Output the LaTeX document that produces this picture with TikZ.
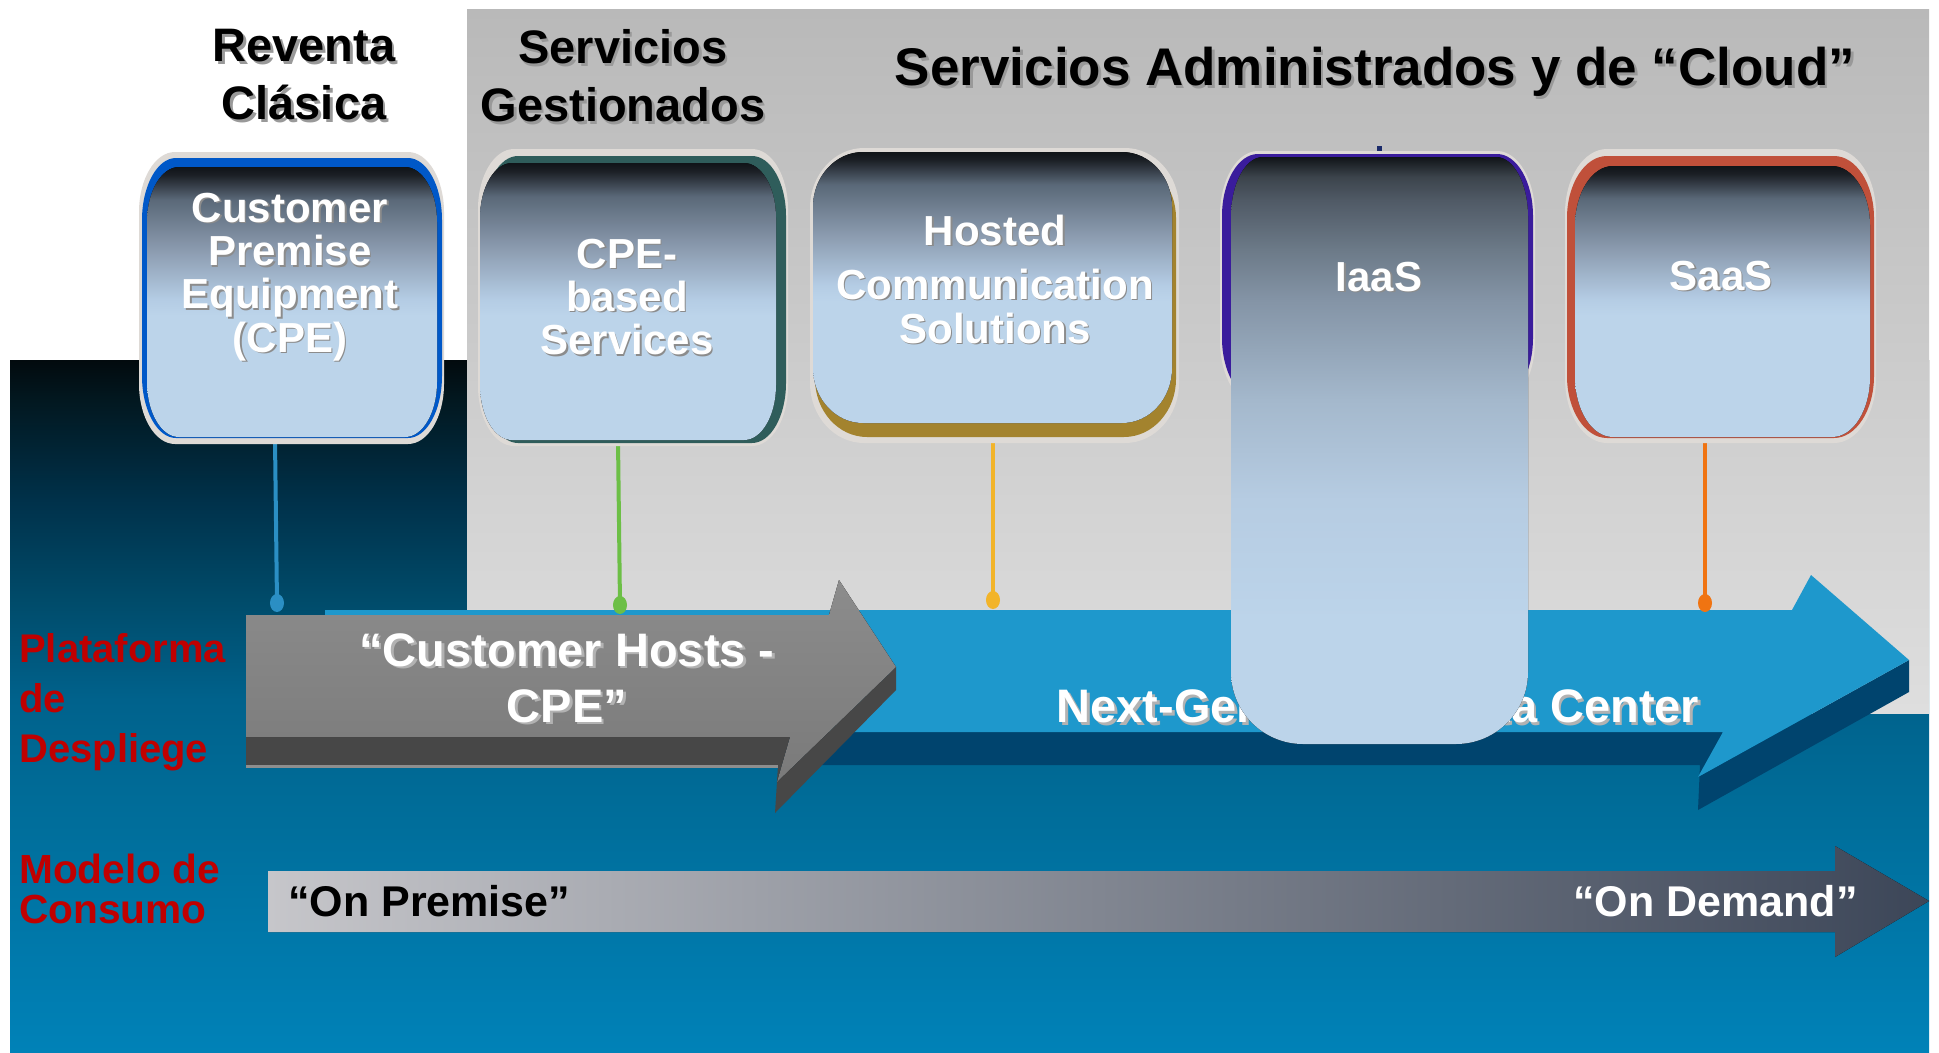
\documentclass[tikz,border=0pt]{standalone}
\usepackage{fontspec}
\setmainfont{Liberation Sans}
\definecolor{bxA}{HTML}{BCD4EA}
\definecolor{bxB}{HTML}{B4CCE4}
\definecolor{bxC}{HTML}{8C9CB0}
\definecolor{bxD}{HTML}{5A6878}
\definecolor{bxE}{HTML}{1C2026}
\definecolor{bxF}{HTML}{101418}
\definecolor{iaB}{HTML}{B6CCE2}
\definecolor{iaC}{HTML}{A4B8CC}
\definecolor{iaD}{HTML}{8494A6}
\definecolor{iaE}{HTML}{6C7A88}
\definecolor{iaF}{HTML}{505A66}
\definecolor{iaG}{HTML}{3C444C}
\definecolor{bgA}{HTML}{0082B8}
\definecolor{bgB}{HTML}{006C98}
\definecolor{bgC}{HTML}{00628C}
\definecolor{bgD}{HTML}{004B6A}
\definecolor{bgE}{HTML}{00314A}
\definecolor{bgF}{HTML}{021820}
\definecolor{bgG}{HTML}{020A0E}
\definecolor{greyT}{HTML}{B9B9B9}
\definecolor{greyM}{HTML}{D4D4D4}
\definecolor{greyB}{HTML}{DEDEDE}
\definecolor{glowc}{HTML}{DEDAD6}
\definecolor{cpeBorder}{HTML}{0058C8}
\definecolor{cpebBorder}{HTML}{2F5D5B}
\definecolor{hostBorder}{HTML}{A3832E}
\definecolor{iaasBorder}{HTML}{3A1C9C}
\definecolor{saasBorder}{HTML}{C0503A}
\definecolor{stemA}{HTML}{2B8FC4}
\definecolor{stemB}{HTML}{6CBF46}
\definecolor{stemC}{HTML}{F2B42A}
\definecolor{stemD}{HTML}{F07412}
\definecolor{ngFace}{HTML}{1E98CC}
\definecolor{ngSide}{HTML}{00446E}
\definecolor{gFaceT}{HTML}{8C8C8C}
\definecolor{gFaceB}{HTML}{7A7A7A}
\definecolor{gSide}{HTML}{474747}
\definecolor{gEdge}{HTML}{8E8E8E}
\definecolor{cmL}{HTML}{C6C6CA}
\definecolor{cmM}{HTML}{8C8E96}
\definecolor{cmR}{HTML}{3C4658}
\definecolor{redlbl}{HTML}{C00000}
\definecolor{tickc}{HTML}{1A2A6A}
\pgfdeclareverticalshading{boxsh}{100bp}{color(0bp)=(bxA); color(47.5bp)=(bxA); color(50.5bp)=(bxB); color(59.5bp)=(bxC); color(69bp)=(bxD); color(73.5bp)=(bxE); color(75bp)=(bxF); color(100bp)=(bxF)}
\pgfdeclareverticalshading{iaassh}{100bp}{color(0bp)=(bxA); color(35.5bp)=(bxA); color(45.8bp)=(iaB); color(54.3bp)=(iaC); color(62.8bp)=(iaD); color(67.1bp)=(iaE); color(71.3bp)=(iaF); color(73.3bp)=(iaG); color(75bp)=(bxF); color(100bp)=(bxF)}
\pgfdeclareverticalshading{bgblue}{100bp}{color(0bp)=(bgA); color(25bp)=(bgA); color(43.3bp)=(bgB); color(50.5bp)=(bgC); color(57.7bp)=(bgD); color(64.9bp)=(bgE); color(72.1bp)=(bgF); color(75bp)=(bgG); color(100bp)=(bgG)}
% rounded rectangle with elliptic corners: x1 ytop x2 ybottom rx ry (pixels, y downward)
\newcommand\rr[6]{(#1,-#2-#6) arc[start angle=180,end angle=90,x radius=#5,y radius=#6] -- (#3-#5,-#2) arc[start angle=90,end angle=0,x radius=#5,y radius=#6] -- (#3,-#4+#6) arc[start angle=0,end angle=-90,x radius=#5,y radius=#6] -- (#1+#5,-#4) arc[start angle=-90,end angle=-180,x radius=#5,y radius=#6] -- cycle}
\begin{document}
\begin{tikzpicture}[x=0.75pt,y=0.75pt,
  ttl/.style={inner sep=0,align=center,text=black,font=\fontsize{35.25}{43.5}\selectfont\bfseries},
  ttlsh/.style={ttl,text=black!40},
  bigttl/.style={inner sep=0,text=black,font=\fontsize{39.75}{48}\selectfont\bfseries},
  bigttlsh/.style={bigttl,text=black!40},
  lbl/.style={inner sep=0,align=center,text=white,font=\fontsize{31.5}{32.5}\selectfont\bfseries},
  lblsh/.style={lbl,text=black!45},
  arrtxt/.style={inner sep=0,align=center,text=white,font=\fontsize{35.25}{42}\selectfont\bfseries},
  arrtxtsh/.style={arrtxt,text=black!30},
  cmtxt/.style={inner sep=0,font=\fontsize{32.25}{38}\selectfont\bfseries},
  redtxt/.style={inner sep=0,align=left,text=redlbl},
  stem/.style={line width=3pt}
]
\fill[white] (0,0) rectangle (1939,-1053);
\useasboundingbox (0,0) rectangle (1939,-1053);
% backgrounds
\fill[shading=bgblue] (10,-360) rectangle (1929,-1053);
\fill[top color=greyT, middle color=greyM, bottom color=greyB] (467,-9) rectangle (1929,-713);

% titles
\node[ttlsh] (reventaSh) at (306.5,-77.5) {Reventa\\Clásica};
\node[ttl] (reventa) at (304,-75) {Reventa\\Clásica};
\node[ttlsh] (gestSh) at (625.5,-78.5) {Servicios\\Gestionados};
\node[ttl] (gest) at (623,-76) {Servicios\\Gestionados};
\node[bigttlsh] (cloudSh) at (1377.5,-74.5) {Servicios Administrados y de “Cloud”};
\node[bigttl] (cloud) at (1375,-72) {Servicios Administrados y de “Cloud”};

% Next-Generation Data Center arrow
\fill[ngSide] (325,-732) -- (1723,-732) -- (1698,-777) -- (1909,-660) -- (1909,-692) -- (1698,-810) -- (1700,-765) -- (325,-765) -- cycle;
\fill[ngFace] (325,-610) -- (1792,-610) -- (1811,-575) -- (1909,-660) -- (1698,-777) -- (1723,-732) -- (325,-732) -- cycle;
\node[arrtxtsh] (ngSh) at (1380.5,-708.5) {Next-Generation Data Center};
\node[arrtxt] (ng) at (1378,-706) {Next-Generation Data Center};

% Customer Hosts arrow
\fill[gSide] (246,-737) -- (790,-737) -- (777,-782) -- (896,-667) -- (896,-690) -- (775,-813) -- (778,-765) -- (246,-765) -- cycle;
\fill[gEdge] (246,-765) rectangle (778,-768);
\fill[top color=gFaceT, bottom color=gFaceB] (246,-615) -- (829,-615) -- (839,-580) -- (896,-667) -- (777,-782) -- (790,-737) -- (246,-737) -- cycle;
\node[arrtxtsh] (chSh) at (569.5,-680.5) {“Customer Hosts -\\CPE”};
\node[arrtxt] (ch) at (567,-678) {“Customer Hosts -\\CPE”};

% consumption arrow
\fill[left color=cmL, middle color=cmM, right color=cmR] (268,-871) -- (1835,-871) -- (1835,-846) -- (1929,-901) -- (1835,-957) -- (1835,-932) -- (268,-932) -- cycle;
\node[cmtxt,anchor=west,text=black] (onprem) at (288,-901) {“On Premise”};
\node[cmtxt,anchor=east,text=white] (ondem) at (1858,-901) {“On Demand”};

% stems
\coordinate (cpeS) at (275,-440); \coordinate (cpeD) at (277,-603);
\coordinate (cpebS) at (618,-440); \coordinate (cpebD) at (620,-605);
\coordinate (hostS) at (993,-440); \coordinate (hostD) at (993,-600);
\coordinate (saasS) at (1705,-440); \coordinate (saasD) at (1705,-603);
\draw[stem,stemA] (cpeS) -- (cpeD);
\fill[stemA] (cpeD) ellipse[x radius=7,y radius=9];
\draw[stem,stemB] (cpebS) -- (cpebD);
\fill[stemB] (cpebD) ellipse[x radius=7,y radius=9];
\draw[stem,stemC] (hostS) -- (hostD);
\fill[stemC] (hostD) ellipse[x radius=7,y radius=9];
\draw[stem,stemD] (saasS) -- (saasD);
\fill[stemD] (saasD) ellipse[x radius=7,y radius=9];

% CPE box
\fill[glowc] \rr{139}{152}{444}{444}{36}{60};
\fill[cpeBorder] \rr{142}{158}{442}{438}{34}{62};
\fill[shading=boxsh] \rr{147}{167}{437}{437}{32}{55};
\node[lblsh] (cpeLs) at (291.5,-278.5) {Customer\\Premise\\Equipment\\(CPE)};
\node[lbl] (cpeL) at (290,-277) {Customer\\Premise\\Equipment\\(CPE)};

% CPE-based box
\fill[glowc] \rr{478}{149}{788}{446}{36}{60};
\fill[cpebBorder] \rr{484}{156}{786}{443}{34}{60};
\fill[shading=boxsh] \rr{480}{163}{776}{440}{32}{55};
\node[lblsh] (cpebLs) at (628.5,-298.5) {CPE-\\based\\Services};
\node[lbl] (cpebL) at (627,-297) {CPE-\\based\\Services};

% Hosted box
\fill[glowc] \rr{810}{148}{1179}{443}{54}{60};
\fill[hostBorder] \rr{815}{160}{1176}{437}{52}{58};
\fill[shading=boxsh] \rr{813}{152}{1172}{423}{50}{55};
\node[lblsh,font=\fontsize{31.5}{33}\selectfont\bfseries] (hostLs) at (996.5,-280.5) {Hosted\\[7.5pt]Communication\\Solutions};
\node[lbl,font=\fontsize{31.5}{33}\selectfont\bfseries] (hostL) at (995,-279) {Hosted\\[7.5pt]Communication\\Solutions};

% IaaS box
\fill[tickc] (1377,-146) rectangle (1382,-153);
\fill[glowc] \rr{1220}{151}{1535}{405}{38}{64};
\fill[iaasBorder] \rr{1222}{154}{1533}{400}{36}{62};
\fill[shading=iaassh] (1231,-672) -- (1231,-217) arc[start angle=180,end angle=90,x radius=32,y radius=60] -- (1496,-157) arc[start angle=90,end angle=0,x radius=32,y radius=60] -- (1528,-672) arc[start angle=0,end angle=-90,x radius=72,y radius=72] -- (1303,-744) arc[start angle=-90,end angle=-180,x radius=72,y radius=72] -- cycle;
\node[lblsh] (iaasLs) at (1380.5,-278.5) {IaaS};
\node[lbl] (iaasL) at (1379,-277) {IaaS};

% SaaS box
\fill[glowc] \rr{1565}{149}{1876}{443}{42}{64};
\fill[saasBorder] \rr{1567}{156}{1874}{438}{40}{62};
\fill[shading=boxsh] \rr{1575}{166}{1870}{437}{38}{60};
\node[lblsh] (saasLs) at (1722.5,-277.5) {SaaS};
\node[lbl] (saasL) at (1721,-276) {SaaS};

% red row labels
\node[redtxt,anchor=west,font=\fontsize{30}{37.5}\selectfont\bfseries] (plat) at (19,-702) {Plataforma\\de\\Despliege};
\node[redtxt,anchor=west,font=\fontsize{30.5}{30.5}\selectfont\bfseries] (modelo) at (19,-889) {Modelo de\\Consumo};
\end{tikzpicture}
\end{document}
